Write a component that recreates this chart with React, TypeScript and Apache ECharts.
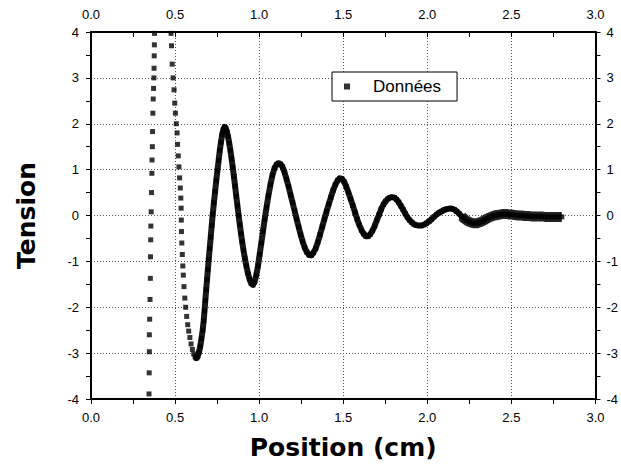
import { useEffect, useRef } from "react";
import * as echarts from "echarts";

// Rising column at the far left (sparse points)
const risingColumn: [number, number][] = [
  [0.345, -3.89], [0.346, -3.43], [0.347, -2.97], [0.347, -2.6], [0.349, -2.26],
  [0.351, -1.83], [0.353, -1.37], [0.354, -0.9], [0.355, -0.53], [0.356, -0.23],
  [0.358, 0.08], [0.36, 0.5], [0.362, 0.92], [0.363, 1.21], [0.365, 1.5],
  [0.366, 1.83], [0.368, 2.23], [0.37, 2.54], [0.372, 2.77], [0.374, 3.0],
  [0.375, 3.21], [0.376, 3.48], [0.377, 3.72], [0.378, 3.97],
];

// Falling branch from the top edge down to the first minimum
const fallingBranch: [number, number][] = [
  [0.476, 3.97], [0.479, 3.7], [0.483, 3.3], [0.488, 3.0], [0.494, 2.74],
  [0.498, 2.45], [0.502, 2.23], [0.507, 2.0], [0.512, 1.8], [0.515, 1.55],
  [0.519, 1.3], [0.523, 1.06], [0.527, 0.82], [0.531, 0.6], [0.534, 0.38],
  [0.536, 0.16], [0.537, -0.1], [0.538, -0.35], [0.54, -0.6], [0.543, -0.85],
  [0.546, -1.1], [0.549, -1.3], [0.553, -1.55], [0.558, -1.8], [0.563, -2.0],
  [0.569, -2.2], [0.575, -2.38], [0.581, -2.52], [0.588, -2.66], [0.595, -2.8],
  [0.603, -2.92], [0.611, -3.02], [0.619, -3.08],
];

// Dense damped oscillation (thick band)
const dampedTrace: [number, number][] = [
  [0.626, -3.11], [0.634, -3.08], [0.642, -2.98], [0.65, -2.85], [0.657, -2.68],
  [0.664, -2.5], [0.67, -2.3], [0.675, -2.08], [0.68, -1.85], [0.685, -1.62],
  [0.69, -1.4], [0.695, -1.18], [0.7, -0.96], [0.706, -0.72], [0.712, -0.47],
  [0.718, -0.22], [0.724, 0.03], [0.731, 0.28], [0.738, 0.52], [0.745, 0.76],
  [0.752, 0.98], [0.759, 1.2], [0.766, 1.42], [0.773, 1.6], [0.78, 1.76],
  [0.787, 1.87], [0.794, 1.93], [0.801, 1.91], [0.808, 1.83], [0.815, 1.72],
  [0.822, 1.58], [0.829, 1.42], [0.836, 1.24], [0.843, 1.05], [0.85, 0.85],
  [0.857, 0.64], [0.864, 0.42], [0.871, 0.21], [0.878, 0.0], [0.885, -0.2],
  [0.892, -0.39], [0.899, -0.57], [0.907, -0.76], [0.915, -0.93], [0.924, -1.1],
  [0.933, -1.26], [0.943, -1.39], [0.953, -1.48], [0.963, -1.51], [0.973, -1.45],
  [0.983, -1.3], [0.993, -1.1], [1.003, -0.85], [1.013, -0.6], [1.023, -0.34],
  [1.033, -0.08], [1.044, 0.18], [1.055, 0.43], [1.067, 0.67], [1.079, 0.88],
  [1.091, 1.03], [1.103, 1.11], [1.115, 1.14], [1.127, 1.12], [1.139, 1.06],
  [1.151, 0.94], [1.163, 0.79], [1.175, 0.63], [1.187, 0.45], [1.199, 0.28],
  [1.211, 0.1], [1.223, -0.08], [1.235, -0.25], [1.247, -0.42], [1.259, -0.57],
  [1.271, -0.7], [1.284, -0.8], [1.297, -0.86], [1.31, -0.87], [1.323, -0.81],
  [1.336, -0.72], [1.349, -0.58], [1.362, -0.42], [1.375, -0.25], [1.388, -0.08],
  [1.401, 0.09], [1.414, 0.25], [1.427, 0.4], [1.44, 0.55], [1.453, 0.67],
  [1.466, 0.76], [1.479, 0.81], [1.492, 0.8], [1.505, 0.74], [1.518, 0.63],
  [1.531, 0.5], [1.544, 0.36], [1.557, 0.22], [1.57, 0.07], [1.583, -0.08],
  [1.596, -0.21], [1.609, -0.32], [1.622, -0.4], [1.635, -0.45], [1.648, -0.45],
  [1.661, -0.41], [1.674, -0.33], [1.687, -0.23], [1.7, -0.1], [1.713, 0.02],
  [1.726, 0.14], [1.739, 0.24], [1.752, 0.31], [1.765, 0.36], [1.778, 0.39],
  [1.791, 0.4], [1.804, 0.39], [1.817, 0.35], [1.83, 0.29], [1.843, 0.21],
  [1.856, 0.13], [1.869, 0.04], [1.882, -0.04], [1.895, -0.1], [1.908, -0.15],
  [1.921, -0.19], [1.934, -0.21], [1.95, -0.22], [1.965, -0.22], [1.98, -0.2],
  [1.995, -0.17], [2.01, -0.13], [2.025, -0.08], [2.04, -0.03], [2.055, 0.02],
  [2.07, 0.06], [2.085, 0.09], [2.1, 0.12], [2.115, 0.14], [2.13, 0.15],
  [2.145, 0.15], [2.16, 0.13], [2.175, 0.09], [2.19, 0.04], [2.205, -0.02],
];

// Flat tail (widest part of the band)
const tailTrace: [number, number][] = [
  [2.205, -0.02], [2.22, -0.07], [2.235, -0.11], [2.25, -0.14], [2.265, -0.16],
  [2.28, -0.17], [2.295, -0.17], [2.31, -0.15], [2.325, -0.13], [2.34, -0.1],
  [2.355, -0.07], [2.37, -0.04], [2.385, -0.02], [2.4, 0.0], [2.415, 0.01],
  [2.43, 0.02], [2.445, 0.03], [2.46, 0.03], [2.475, 0.03], [2.49, 0.02],
  [2.505, 0.02], [2.52, 0.01], [2.54, 0.0], [2.56, 0.0], [2.58, -0.01],
  [2.6, -0.01], [2.62, -0.02], [2.64, -0.02], [2.66, -0.02], [2.68, -0.02],
  [2.7, -0.03], [2.72, -0.03], [2.74, -0.03], [2.76, -0.03], [2.78, -0.03],
  [2.8, -0.03],
];

const xTickLabels = ["0.0", "0.5", "1.0", "1.5", "2.0", "2.5", "3.0"];
const seriesName = "Données";
const xTitle = "Position (cm)";
const yTitle = "Tension";

export default function App() {
  const ref = useRef<HTMLDivElement>(null);

  useEffect(() => {
    const chart = echarts.init(ref.current!, null, { renderer: "svg" });
    const tickFont = { fontFamily: "Liberation Sans", fontSize: 13, color: "#000" };
    const titleFont = {
      fontFamily: "DejaVu Sans",
      fontWeight: "bold" as const,
      fontSize: 25,
      color: "#000",
    };
    const axisLine = { show: true, onZero: false, lineStyle: { color: "#000", width: 2 } };
    const tick = (inside: boolean) => ({
      show: true,
      inside,
      length: 5,
      lineStyle: { color: "#000", width: 1 },
    });
    const minor = (n: number) => ({
      show: true,
      splitNumber: n,
      length: 5,
      lineStyle: { color: "#000", width: 1 },
    });
    const grid = {
      show: true,
      lineStyle: { color: "#555", width: 1, type: [1, 2] as number[] },
    };
    const xFmt = (v: number) => xTickLabels[Math.round(v / 0.5)] ?? "";

    chart.setOption({
      animation: false,
      backgroundColor: "#fff",
      grid: { left: 91, right: 14, top: 32, bottom: 72, containLabel: false },
      legend: {
        data: [seriesName],
        left: 332,
        top: 72,
        padding: [6, 16, 6, 12],
        borderColor: "#000",
        borderWidth: 1,
        borderRadius: 0,
        backgroundColor: "#fff",
        icon: "path://M0 0H10V10H0Z",
        itemWidth: 42,
        itemHeight: 6,
        textStyle: { fontFamily: "Liberation Sans", fontSize: 17, color: "#000" },
      },
      xAxis: [
        {
          type: "value",
          position: "bottom",
          min: 0,
          max: 3,
          interval: 0.5,
          axisLine,
          axisTick: tick(false),
          minorTick: minor(2),
          splitLine: grid,
          axisLabel: { ...tickFont, margin: 12, formatter: xFmt, showMinLabel: true, showMaxLabel: true },
          name: xTitle,
          nameLocation: "middle",
          nameGap: 36,
          nameTextStyle: titleFont,
        },
        {
          type: "value",
          position: "top",
          min: 0,
          max: 3,
          interval: 0.5,
          axisLine,
          axisTick: tick(true),
          minorTick: minor(2),
          splitLine: { show: false },
          axisLabel: { ...tickFont, margin: 11, formatter: xFmt, showMinLabel: true, showMaxLabel: true },
        },
      ],
      yAxis: [
        {
          type: "value",
          position: "left",
          min: -4,
          max: 4,
          interval: 1,
          axisLine,
          axisTick: tick(false),
          minorTick: minor(2),
          splitLine: grid,
          axisLabel: { ...tickFont, margin: 12, showMinLabel: true, showMaxLabel: true },
          name: yTitle,
          nameLocation: "middle",
          nameGap: 52,
          nameTextStyle: titleFont,
        },
        {
          type: "value",
          position: "right",
          min: -4,
          max: 4,
          interval: 1,
          axisLine,
          axisTick: tick(false),
          minorTick: minor(2),
          splitLine: { show: false },
          axisLabel: { ...tickFont, margin: 11, showMinLabel: true, showMaxLabel: true },
        },
      ],
      series: [
        {
          type: "line",
          name: "band",
          xAxisIndex: 0,
          yAxisIndex: 0,
          data: dampedTrace,
          showSymbol: false,
          silent: true,
          lineStyle: { color: "#1a1a1a", width: 6, join: "round", cap: "round" },
          z: 2,
        },
        {
          type: "line",
          name: "tail",
          xAxisIndex: 0,
          yAxisIndex: 0,
          data: tailTrace,
          showSymbol: false,
          silent: true,
          lineStyle: { color: "#222", width: 10, join: "round", cap: "butt" },
          z: 2,
        },
        {
          type: "scatter",
          name: seriesName,
          xAxisIndex: 0,
          yAxisIndex: 0,
          data: [...risingColumn, ...fallingBranch, ...dampedTrace, ...tailTrace],
          symbol: "rect",
          symbolSize: 5,
          itemStyle: { color: "#000" },
          z: 3,
        },
      ],
    });
    return () => chart.dispose();
  }, []);

  return (
    <div
      ref={ref}
      style={{ position: "fixed", left: 0, top: 0, width: 621, height: 471, background: "#fff" }}
    />
  );
}
